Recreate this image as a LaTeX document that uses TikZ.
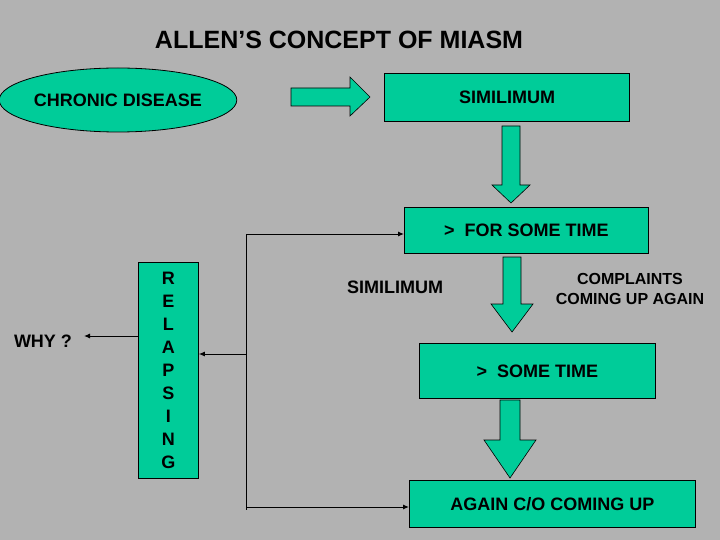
\documentclass[tikz,border=0pt]{standalone}
\usepackage{fontspec}
\setmainfont{Liberation Sans}
\usetikzlibrary{shapes.geometric,shapes.arrows,arrows.meta}
\definecolor{bg}{HTML}{B2B2B2}
\definecolor{gr}{HTML}{00CC99}
\begin{document}
\begin{tikzpicture}[x=1pt,y=-1pt,
  box/.style={draw=black,fill=gr,line width=0.8pt,inner sep=0pt},
  txt/.style={font=\fontsize{18}{21}\selectfont\bfseries},
  con/.style={line width=1pt,-{Latex[length=6pt,width=5pt]}},
  bar/.style={draw=black,fill=gr,line width=0.6pt}]
\fill[bg] (0,0) rectangle (720,540);
\useasboundingbox (0,0) rectangle (720,540);
\node[font=\fontsize{25}{30}\selectfont\bfseries] (title) at (339,40) {ALLEN’S CONCEPT OF MIASM};
\node[box,ellipse,minimum width=222pt,minimum height=64pt,txt] (cd) at (118,100) {CHRONIC DISEASE};
\node[box,minimum width=245pt,minimum height=48pt,anchor=north west] (sim) at (384,73) {};
\node[txt] (simt) at (507,97) {SIMILIMUM};
\node[box,minimum width=244pt,minimum height=46pt,anchor=north west,txt] (fst) at (404,207) {>\ \ FOR SOME TIME};
\node[box,minimum width=236pt,minimum height=55pt,anchor=north west,txt] (st) at (419,343) {>\ \ SOME TIME};
\node[box,minimum width=286pt,minimum height=47pt,anchor=north west,txt] (ag) at (409,480) {AGAIN C/O COMING UP};
\node[box,minimum width=60pt,minimum height=216pt,anchor=north west,txt,align=center] (rel) at (138,262) {R\\[2pt]E\\[2pt]L\\[2pt]A\\[2pt]P\\[2pt]S\\[2pt]I\\[2pt]N\\[2pt]G};
\node[txt] (why) at (43,341) {WHY ?};
\node[txt] (sim2) at (395,287) {SIMILIMUM};
\node[txt,align=center,font=\fontsize{16}{20}\selectfont\bfseries] (comp) at (630,289) {COMPLAINTS\\ COMING UP AGAIN};
% block arrows
\draw[bar] (291,88) -- (350,88) -- (350,77) -- (370,97) -- (350,116) -- (350,106) -- (291,106) -- cycle;
\draw[bar] (502,126) -- (520,126) -- (520,185) -- (530,185) -- (511,203) -- (492,185) -- (502,185) -- cycle;
\draw[bar] (503,257) -- (521,257) -- (521,304) -- (533,304) -- (512,332) -- (491,304) -- (503,304) -- cycle;
\draw[bar] (500,400) -- (520,400) -- (520,440) -- (536,440) -- (510,478) -- (484,440) -- (500,440) -- cycle;
% connectors
\coordinate (t) at (246,234);
\coordinate (m) at (246,354);
\coordinate (b) at (246,507);
\draw[line width=1pt] (t) -- (246,510);
\draw[con] (t) -- (fst.west |- t);
\draw[con] (m) -- (rel.east |- m);
\draw[con] (b) -- (ag.west |- b);
\draw[con] (rel.west |- 0,336) -- (84,336);
\end{tikzpicture}
\end{document}
